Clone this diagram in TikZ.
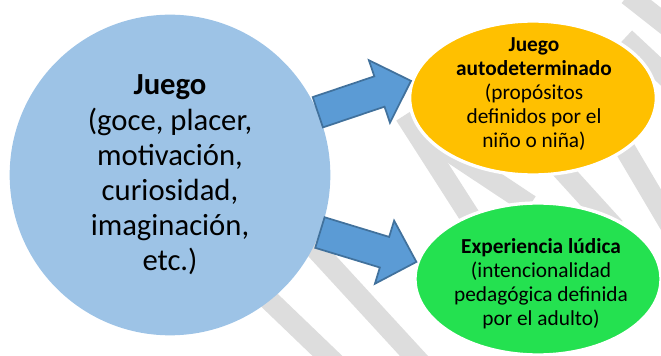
\documentclass[tikz,border=0pt]{standalone}
\usepackage{fontspec}
\setmainfont{Carlito}
\usetikzlibrary{calc,shapes.geometric}
\definecolor{circblue}{HTML}{9DC3E6}
\definecolor{arrowblue}{HTML}{5B9BD5}
\definecolor{arrowedge}{HTML}{41719C}
\definecolor{autoorange}{HTML}{FFC000}
\definecolor{ludgreen}{HTML}{24E150}
\definecolor{stripegrey}{HTML}{DDDDDD}
\tikzset{
  stripe/.style={draw=stripegrey, line width=15.5pt},
  bigarrow/.style={fill=arrowblue, draw=arrowedge, line width=1.3pt, line join=miter},
  bubble/.style={ellipse, draw=white, line width=2.5pt, inner sep=0pt},
  bubbletext/.style={align=center, inner sep=0pt, font=\fontsize{16}{18}\selectfont},
}
\begin{document}
\begin{tikzpicture}[x=0.75pt, y=-0.75pt]
    \useasboundingbox (0,0) rectangle (661,356);
    \clip (0,0) rectangle (661,356);
    \draw[stripe] (240,272) -- (340,368);
    \draw[stripe] (300,232) -- (425,368);
    \draw[stripe] (405,115) -- (485,240);
    \draw[stripe] (432,140) -- (530,205);
    \draw[stripe] (535,140) -- (615,228);
    \draw[stripe] (605,115) -- (670,225);
    \draw[stripe] (628,-5) -- (670,28);
    \draw[stripe] (625,38) -- (670,80);
    \node[circle, fill=circblue, minimum size=240.5pt, inner sep=0pt] (juego) at (170,175) {};
    \node[bubble, fill=autoorange, minimum width=185pt, minimum height=115.5pt] (auto) at (533,98) {};
    \node[bubble, fill=ludgreen, minimum width=184.5pt, minimum height=114pt] (ludica) at (538,279) {};
    \node[align=center, inner sep=0pt, font=\fontsize{23}{26.4}\selectfont] (juegotxt) at (170,175)
      {\textbf{Juego}\\(goce, placer,\\motivación,\\curiosidad,\\imaginación,\\etc.)};
    \node[bubbletext] (autotxt) at (534,94)
      {\textbf{Juego}\\\textbf{autodeterminado}\\(propósitos\\definidos por el\\niño o niña)};
    \node[bubbletext] (ludicatxt) at (541,284)
      {\textbf{Experiencia lúdica}\\(intencionalidad\\pedagógica definida\\por el adulto)};
    \coordinate (t1) at (juego.23);
    \coordinate (h1) at (auto.172);
    \coordinate (t2) at (juego.-21);
    \coordinate (h2) at (ludica.172);
    \foreach \s/\e in {t1/h1, t2/h2}
    {
      \coordinate (b) at ($(\e)!25pt!(\s)$);
      \draw[bigarrow] ($(\s)!12pt!90:(\e)$) -- ($(b)!12pt!-90:(\s)$) -- ($(b)!24.75pt!-90:(\s)$)
        -- (\e) -- ($(b)!24.75pt!90:(\s)$) -- ($(b)!12pt!90:(\s)$) -- ($(\s)!12pt!-90:(\e)$) -- cycle;
    }
\end{tikzpicture}
\end{document}
